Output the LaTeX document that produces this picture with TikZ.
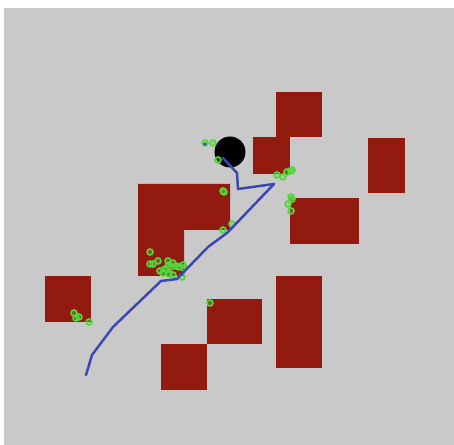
\documentclass[tikz,border=0pt]{standalone}
\usepackage{tikz}

\definecolor{floorgray}{RGB}{201,201,201}
\definecolor{wallred}{RGB}{147,26,14}
\definecolor{pathblue}{RGB}{58,70,178}
\definecolor{partgreen}{RGB}{84,214,62}

\begin{document}
\begin{tikzpicture}[
    x=0.02cm, y=-0.02cm,
    obstacle/.style={fill=wallred, draw=none},
    particle/.style={draw=partgreen, line width=0.9pt, fill=partgreen, fill opacity=0.35},
    route/.style={draw=pathblue, line width=1.4pt, line join=round, line cap=round}
]

%% ─── CANVAS ─────────────────────────────────────────────────────────────

\useasboundingbox[fill=white] (0,0) rectangle (454,445);
\fill[floorgray] (4,8) rectangle (454,445);

%% ─── OBSTACLES ──────────────────────────────────────────────────────────

\fill[obstacle] (276,92)  rectangle (322,137);   % top right
\fill[obstacle] (253,137) rectangle (290,174);   % small under it
\fill[obstacle] (368,138) rectangle (405,193);   % far right
\fill[obstacle] (290,198) rectangle (359,244);   % right middle
\fill[obstacle] (138,184) -- (230,184) -- (230,230) -- (184,230)
                -- (184,276) -- (138,276) -- cycle; % L block
\fill[obstacle] (45,276)  rectangle (91,322);    % left
\fill[obstacle] (207,299) rectangle (262,344);   % middle lower
\fill[obstacle] (161,344) rectangle (207,390);   % bottom
\fill[obstacle] (276,276) rectangle (322,368);   % tall right

%% ─── ROBOT ──────────────────────────────────────────────────────────────

\fill[black] (230,152) circle (15.5);

%% ─── PARTICLES ──────────────────────────────────────────────────────────

\foreach \px/\py in {
    205/143, 213/143, 218/160,
    223/191, 224/192, 232/224, 223/230,
    277/175, 283/177, 287/172, 291/171, 292/170,
    291/197, 292/199, 288/204, 291/211,
    150/252, 150/264, 153/264, 158/261, 160/271, 163/273,
    168/261, 169/265, 171/267, 173/263, 176/266, 179/267,
    183/265, 184/268, 182/277, 173/275, 169/274, 165/269, 167/270,
    74/313, 76/318, 79/317, 89/322,
    210/303}
    \draw[particle] (\px,\py) circle (3);

\fill[pathblue] (205,144) circle (1.8);

%% ─── ESTIMATED PATH ─────────────────────────────────────────────────────

\draw[route] (223,158) -- (237,173) -- (238,189) -- (274,184)
    -- (230,230) -- (227,233) -- (208,247) -- (177,279)
    -- (161,281) -- (113,327) -- (92,355) -- (86,375);

\end{tikzpicture}
\end{document}
